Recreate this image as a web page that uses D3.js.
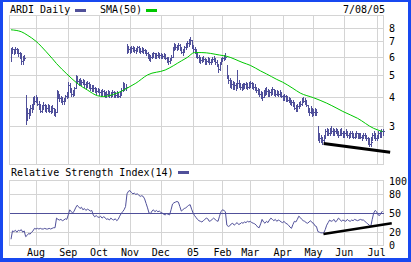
<!doctype html>
<html lang="en">
<head>
<meta charset="UTF-8">
<title>ARDI Daily</title>
<script src="https://cdn.jsdelivr.net/npm/d3@7"></script>
<style>
    body { margin: 0; background: #fff; }
    svg { display: block; }
    text { font-family: "DejaVu Sans Mono", monospace; font-size: 10px; fill: #000; }
</style>
</head>
<body>
<script>

var w = 411;
var h = 262;

// trading calendar: 7/08/04 .. 7/08/05, weekends and NYSE holidays skipped
var firstDay = new Date(2004, 6, 8);
var lastDay = new Date(2005, 6, 8);
var holidays = ["2004-09-06", "2004-11-25", "2004-12-24", "2005-01-17",
    "2005-02-21", "2005-03-25", "2005-05-30", "2005-07-04"];
var monthLabels = ["Aug", "Sep", "Oct", "Nov", "Dec", "05", "Feb", "Mar", "Apr", "May", "Jun", "Jul"];
var priceTicks = [3, 4, 5, 6, 7, 8];
var rsiTicks = [0, 20, 50, 80, 100];

// daily bars
var close = [
    6.30,6.45,6.30,6.45,6.35,6.20,6.10,5.75,5.90,5.95,
    3.25,3.40,3.35,3.60,3.55,3.90,3.85,4.00,3.75,3.60,
    3.50,3.60,3.70,3.55,3.60,3.65,3.50,3.55,3.60,3.40,
    3.45,4.10,4.05,3.95,3.90,3.85,3.90,4.05,4.10,4.50,
    4.30,4.15,4.20,4.40,4.90,4.70,4.75,4.60,4.65,4.70,
    4.55,4.50,4.60,4.50,4.40,4.35,4.40,4.30,4.25,4.30,
    4.20,4.15,4.25,4.10,4.05,4.15,4.20,4.10,4.05,4.20,
    4.10,4.10,4.15,4.05,4.20,4.30,4.55,4.40,4.45,6.50,
    6.45,6.35,6.55,6.50,6.40,6.45,6.60,6.40,6.35,6.50,
    6.40,6.30,6.20,6.00,5.90,6.00,6.15,6.20,6.05,6.10,
    6.20,6.10,6.00,6.05,6.10,5.95,5.80,5.75,5.90,6.00,
    6.50,6.70,6.60,6.55,6.75,6.50,6.30,6.40,6.60,6.75,
    6.85,7.00,7.10,6.70,6.45,6.40,6.15,6.00,5.85,5.80,
    5.90,5.85,5.65,5.75,5.90,5.70,5.70,5.85,5.95,5.70,
    5.55,5.30,5.60,5.85,5.90,5.95,6.00,5.00,4.75,4.70,
    4.55,4.45,4.50,4.40,4.60,4.55,4.45,4.40,4.50,4.55,
    4.50,4.45,4.55,4.60,4.50,4.45,4.40,4.30,4.25,4.15,
    4.05,4.00,4.20,4.30,4.25,4.15,4.20,4.25,4.35,4.20,
    4.15,4.20,4.15,4.10,4.05,4.00,4.05,3.95,3.90,3.85,
    3.85,3.80,3.75,3.60,3.55,3.65,3.70,3.75,3.90,3.85,
    3.80,3.70,3.55,3.45,3.50,3.40,3.45,3.50,3.45,2.70,
    2.65,2.60,2.60,2.70,2.85,2.85,2.80,2.90,2.85,2.80,
    2.85,2.90,2.80,2.75,2.85,2.80,2.75,2.80,2.85,2.75,
    2.75,2.80,2.75,2.70,2.75,2.80,2.70,2.75,2.70,2.70,
    2.75,2.70,2.65,2.55,2.50,2.55,2.75,2.70,2.65,2.70,
    2.80,2.75,2.85,2.85
];
var high = [
    6.55,6.60,6.50,6.60,6.55,6.50,6.30,6.25,6.05,6.10,
    4.10,3.60,3.55,3.70,3.75,4.00,4.05,4.10,4.00,3.85,
    3.75,3.70,3.80,3.75,3.70,3.75,3.70,3.65,3.70,3.60,
    3.55,4.30,4.25,4.15,4.05,4.00,3.95,4.10,4.20,4.65,
    4.60,4.40,4.30,4.45,5.00,4.95,4.80,4.85,4.75,4.80,
    4.75,4.65,4.70,4.65,4.55,4.50,4.50,4.45,4.40,4.40,
    4.35,4.30,4.35,4.30,4.20,4.25,4.30,4.25,4.20,4.30,
    4.25,4.20,4.25,4.20,4.25,4.40,4.65,4.60,4.55,6.80,
    6.70,6.60,6.65,6.70,6.60,6.55,6.70,6.65,6.55,6.60,
    6.55,6.50,6.40,6.30,6.15,6.10,6.25,6.30,6.25,6.20,
    6.30,6.25,6.20,6.15,6.20,6.15,6.00,6.00,5.95,6.10,
    6.60,6.85,6.80,6.75,6.90,6.80,6.60,6.50,6.70,6.85,
    7.00,7.15,7.30,7.10,6.75,6.60,6.50,6.30,6.10,6.00,
    6.00,6.05,5.90,5.85,6.00,5.95,5.85,6.00,6.05,5.95,
    5.80,5.60,5.70,5.95,6.00,6.10,6.20,5.50,5.00,4.85,
    4.75,4.70,4.65,4.60,5.25,4.75,4.60,4.55,4.60,4.60,
    4.65,4.60,4.65,4.70,4.65,4.60,4.55,4.45,4.40,4.35,
    4.25,4.20,4.30,4.40,4.45,4.35,4.30,4.35,4.45,4.35,
    4.30,4.30,4.25,4.30,4.20,4.10,4.15,4.10,4.05,4.00,
    3.95,3.90,3.90,3.80,3.70,3.75,3.80,3.85,3.95,4.00,
    3.95,3.90,3.70,3.60,3.65,3.60,3.55,3.60,3.55,3.00,
    2.80,2.75,2.70,2.75,2.90,2.95,2.90,2.95,3.00,2.95,
    2.90,2.95,2.90,2.85,2.90,2.95,2.85,2.85,2.90,2.85,
    2.80,2.85,2.85,2.80,2.80,2.85,2.80,2.80,2.80,2.75,
    2.80,2.80,2.75,2.70,2.65,2.70,2.80,2.85,2.80,2.75,
    2.85,2.85,2.90,2.90
];
var low = [
    5.75,6.20,6.15,6.25,6.20,6.05,5.90,5.55,5.60,5.80,
    3.05,3.20,3.25,3.35,3.45,3.60,3.75,3.80,3.70,3.55,
    3.45,3.45,3.55,3.50,3.45,3.50,3.45,3.40,3.45,3.35,
    3.30,3.45,3.95,3.85,3.80,3.75,3.75,3.85,3.95,4.00,
    4.20,4.05,4.05,4.10,4.40,4.60,4.50,4.55,4.50,4.55,
    4.45,4.40,4.45,4.40,4.30,4.25,4.25,4.20,4.15,4.20,
    4.10,4.05,4.10,4.05,4.00,4.00,4.05,4.00,4.00,4.05,
    4.00,4.00,4.00,4.00,4.00,4.10,4.25,4.30,4.30,6.25,
    6.30,6.25,6.30,6.35,6.30,6.25,6.35,6.30,6.25,6.30,
    6.25,6.20,6.10,5.90,5.80,5.75,5.95,6.00,5.95,5.90,
    6.00,5.95,5.90,5.90,5.95,5.85,5.70,5.60,5.65,5.80,
    6.00,6.40,6.45,6.40,6.50,6.40,6.20,6.10,6.30,6.50,
    6.60,6.70,6.80,6.55,6.30,6.20,6.00,5.90,5.70,5.65,
    5.70,5.75,5.55,5.55,5.70,5.60,5.55,5.70,5.75,5.60,
    5.45,5.15,5.25,5.60,5.75,5.80,5.85,4.85,4.60,4.45,
    4.40,4.35,4.35,4.30,4.45,4.45,4.35,4.30,4.35,4.40,
    4.40,4.35,4.40,4.45,4.40,4.35,4.30,4.20,4.15,4.05,
    3.95,3.90,4.00,4.10,4.15,4.05,4.05,4.10,4.15,4.10,
    4.05,4.10,4.05,4.05,4.00,3.90,3.90,3.85,3.85,3.80,
    3.75,3.70,3.65,3.55,3.50,3.50,3.60,3.65,3.70,3.80,
    3.75,3.65,3.45,3.35,3.40,3.30,3.35,3.35,3.35,2.60,
    2.55,2.55,2.50,2.55,2.65,2.75,2.75,2.75,2.80,2.75,
    2.75,2.80,2.75,2.70,2.75,2.75,2.70,2.70,2.75,2.70,
    2.65,2.70,2.70,2.65,2.65,2.70,2.65,2.65,2.65,2.60,
    2.65,2.65,2.60,2.50,2.45,2.45,2.60,2.65,2.60,2.60,
    2.65,2.70,2.70,2.75
];

// SMA(50) as read at these trading days
var smaDay = [0, 7, 11, 17, 24, 28, 31, 38, 45, 52, 59, 63, 70, 75, 81, 85, 93, 105,
    116, 120, 125, 130, 142, 147, 158, 163, 170, 174, 181, 185, 192, 197, 206, 215,
    222, 226, 236, 247, 253];
var smaValue = [7.85, 7.7, 7.45, 7.0, 6.3, 5.9, 5.6, 5.05, 4.6, 4.3, 4.06, 4.03, 4.12, 4.24,
    4.45, 4.6, 5.0, 5.25, 5.75, 5.95, 6.25, 6.25, 6.1, 6.02, 5.65, 5.5, 5.2, 5.05, 4.78,
    4.65, 4.37, 4.17, 3.98, 3.77, 3.58, 3.47, 3.24, 2.93, 2.84];

// RSI(14), daily
var rsi = [
    9,22,21,23,20,23,22,24,20,22,
    13,15,18,17,20,22,26,25,26,25,
    26,25,25,26,25,25,26,25,26,27,
    27,42,40,39,40,38,39,41,40,47,
    55,52,50,53,58,62,60,57,59,55,
    57,54,56,55,53,54,47,44,46,44,
    43,45,42,44,43,40,41,39,42,40,
    39,41,38,40,45,49,52,55,60,80,
    84,85,82,80,81,79,80,78,76,77,
    76,72,65,58,50,49,53,55,52,54,
    52,53,51,50,48,47,49,48,47,55,
    64,66,67,68,67,60,53,55,57,58,
    60,62,63,56,50,46,43,40,38,37,
    36,38,40,42,41,37,38,40,42,40,
    38,37,45,52,55,54,52,31,29,30,
    33,34,31,33,35,32,33,35,34,36,
    35,37,36,37,35,34,33,31,28,27,
    33,40,36,34,37,35,39,42,40,38,
    40,37,39,38,36,35,37,34,33,31,
    28,26,32,37,36,40,45,43,40,38,
    37,35,34,36,38,35,34,30,29,21,
    20,19,19,19,24,31,35,39,37,38,
    40,36,38,42,40,37,39,38,37,40,
    38,37,39,38,40,39,38,39,40,39,
    39,37,35,33,31,29,40,50,54,52,
    47,46,50,53
];

// hand drawn trend lines [day, value]
var priceTrend = [[212.9, 2.52], [258.2, 2.31]];
var rsiTrend = [[212.8, 17.2], [259.3, 33.9]];

var barColor = "#50509a";
var smaColor = "#00c800";
var gridColor = "#d4d4d4";
var frameColor = "#1848f0";

// dates
var fmt = d3.timeFormat("%Y-%m-%d");
var dates = [];
for (var d = new Date(firstDay); d <= lastDay; d.setDate(d.getDate() + 1)) {
    var wd = d.getDay();
    if (wd > 0 && wd < 6 && holidays.indexOf(fmt(d)) < 0) dates.push(new Date(d));
}
var monthIdx = [];
dates.forEach(function (dt, i) {
    if (i > 0 && dt.getMonth() !== dates[i - 1].getMonth()) monthIdx.push(i);
});

var n = close.length;
var pLeft = 9.5, pRight = 383.5;

var xScale = d3.scaleLinear().domain([0, n - 1]).range([11, 382.5]);
var yPrice = d3.scaleLog().domain([3, 8]).range([126, 27.9]);
var yRsi = d3.scaleLinear().domain([0, 100]).range([245, 181]);

function px(v) { return Math.round(v) + 0.5; }

var svg = d3.select("body").append("svg")
    .attr("width", w)
    .attr("height", h);

svg.append("rect").attr("width", w).attr("height", h).attr("fill", "#fff");

// panel frames + grids
function panel(top, bottom, yTicks, yScale) {
    var g = svg.append("g").attr("shape-rendering", "crispEdges");
    g.selectAll("line.v")
        .data(monthIdx)
        .enter()
        .append("line")
        .attr("x1", function (i) { return px(xScale(i)); })
        .attr("x2", function (i) { return px(xScale(i)); })
        .attr("y1", top).attr("y2", bottom)
        .attr("stroke", gridColor);
    g.selectAll("line.h")
        .data(yTicks)
        .enter()
        .append("line")
        .attr("x1", pLeft).attr("x2", pRight)
        .attr("y1", function (v) { return px(yScale(v)); })
        .attr("y2", function (v) { return px(yScale(v)); })
        .attr("stroke", gridColor);
    g.append("rect")
        .attr("x", pLeft).attr("y", top)
        .attr("width", pRight - pLeft).attr("height", bottom - top)
        .attr("fill", "none").attr("stroke", gridColor);
    return g;
}

panel(15.5, 164.5, priceTicks, yPrice);
panel(180.5, 245.5, [20, 50, 80], yRsi);

// price bars
var bars = svg.append("g").attr("shape-rendering", "crispEdges").attr("stroke", barColor);
bars.selectAll("line.hl")
    .data(close)
    .enter()
    .append("line")
    .attr("x1", function (c, i) { return px(xScale(i)); })
    .attr("x2", function (c, i) { return px(xScale(i)); })
    .attr("y1", function (c, i) { return Math.round(yPrice(high[i])); })
    .attr("y2", function (c, i) { return Math.round(yPrice(low[i])) + 1; });
bars.selectAll("line.cl")
    .data(close)
    .enter()
    .append("line")
    .attr("x1", function (c, i) { return px(xScale(i)); })
    .attr("x2", function (c, i) { return px(xScale(i)) + 1.5; })
    .attr("y1", function (c) { return px(yPrice(c)); })
    .attr("y2", function (c) { return px(yPrice(c)); });

// SMA(50)
var smaLine = d3.line()
    .x(function (v, k) { return xScale(smaDay[k]); })
    .y(function (v) { return yPrice(v); })
    .curve(d3.curveMonotoneX);
svg.append("path")
    .attr("d", smaLine(smaValue))
    .attr("fill", "none")
    .attr("stroke", smaColor)
    .attr("stroke-width", 1);

svg.append("line")
    .attr("x1", xScale(priceTrend[0][0])).attr("y1", yPrice(priceTrend[0][1]))
    .attr("x2", xScale(priceTrend[1][0])).attr("y2", yPrice(priceTrend[1][1]))
    .attr("stroke", "#000").attr("stroke-width", 3);

// RSI
svg.append("line")
    .attr("x1", pLeft).attr("x2", pRight)
    .attr("y1", px(yRsi(50))).attr("y2", px(yRsi(50)))
    .attr("stroke", barColor)
    .attr("shape-rendering", "crispEdges");

var rsiLine = d3.line()
    .x(function (v, i) { return xScale(i); })
    .y(function (v) { return yRsi(v); });
svg.append("path")
    .attr("d", rsiLine(rsi))
    .attr("fill", "none")
    .attr("stroke", barColor)
    .attr("stroke-width", 1);

svg.append("line")
    .attr("x1", xScale(rsiTrend[0][0])).attr("y1", yRsi(rsiTrend[0][1]))
    .attr("x2", xScale(rsiTrend[1][0])).attr("y2", yRsi(rsiTrend[1][1]))
    .attr("stroke", "#000").attr("stroke-width", 2.5);

// right axes
svg.selectAll("text.py")
    .data(priceTicks)
    .enter()
    .append("text")
    .attr("x", 389)
    .attr("y", function (v) { return yPrice(v) + 4; })
    .text(function (v) { return v; });
svg.selectAll("text.ry")
    .data(rsiTicks)
    .enter()
    .append("text")
    .attr("x", 389)
    .attr("y", function (v) { return yRsi(v) + 4; })
    .text(function (v) { return v; });

// month labels
svg.selectAll("text.mx")
    .data(monthIdx)
    .enter()
    .append("text")
    .attr("x", function (i) { return xScale(i); })
    .attr("y", 256)
    .attr("text-anchor", "middle")
    .text(function (i, k) { return monthLabels[k]; });

// legends
svg.append("text").attr("x", 10).attr("y", 13).text("ARDI Daily");
svg.append("rect").attr("x", 75).attr("y", 9).attr("width", 11).attr("height", 3).attr("fill", barColor);
svg.append("text").attr("x", 100).attr("y", 13).text("SMA(50)");
svg.append("rect").attr("x", 146).attr("y", 9).attr("width", 11).attr("height", 3).attr("fill", smaColor);
svg.append("text").attr("x", 343).attr("y", 13).text("7/08/05");

svg.append("text").attr("x", 11).attr("y", 176).text("Relative Strength Index(14)");
svg.append("rect").attr("x", 178).attr("y", 171).attr("width", 11).attr("height", 3).attr("fill", barColor);

// blue frame
var frame = svg.append("g").attr("fill", frameColor);
frame.append("rect").attr("x", 0).attr("y", 0).attr("width", w).attr("height", 2);
frame.append("rect").attr("x", 0).attr("y", 0).attr("width", 3).attr("height", h);
frame.append("rect").attr("x", w - 3).attr("y", 0).attr("width", 3).attr("height", h);
frame.append("rect").attr("x", 0).attr("y", h - 4).attr("width", w).attr("height", 4);

</script>
</body>
</html>
